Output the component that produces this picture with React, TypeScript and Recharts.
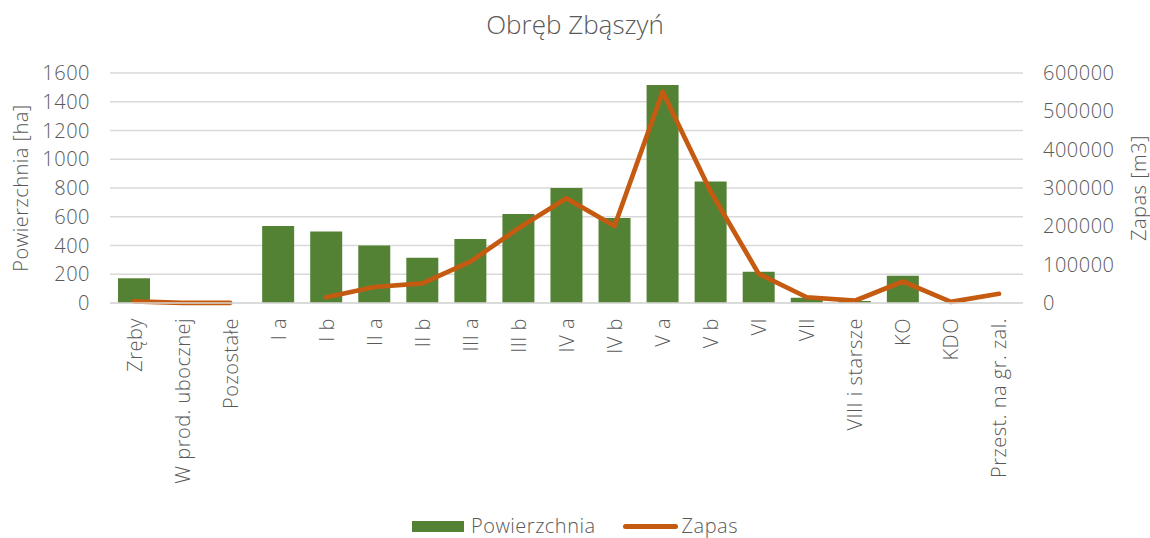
import React from 'react';
import { ComposedChart, Bar, Line, XAxis, YAxis, CartesianGrid, Legend } from 'recharts';

const categories = [
  'Zręby', 'W prod. ubocznej', 'Pozostałe', 'I a', 'I b', 'II a', 'II b', 'III a', 'III b',
  'IV a', 'IV b', 'V a', 'V b', 'VI', 'VII', 'VIII i starsze', 'KO', 'KDO', 'Przest. na gr. zal.',
];
const powierzchnia = [172, 0, 0, 536, 497, 400, 315, 446, 619, 800, 592, 1516, 845, 218, 37, 14, 190, 2, 0];
const zapas = [
  4000, 500, 500, null, 15000, 41700, 51400, 107800, 195000, 273000, 201000, 551000, 291000, 76000,
  15000, 6000, 56000, 3000, 24000,
];
const leftTicks = [0, 200, 400, 600, 800, 1000, 1200, 1400, 1600];
const rightTicks = [0, 100000, 200000, 300000, 400000, 500000, 600000];

const data = categories.map((name, i) => ({ name, Powierzchnia: powierzchnia[i], Zapas: zapas[i] }));

const FONT = '"Open Sans", Lato, sans-serif';
const TEXT = '#595959';
const GREEN = '#548235';
const ORANGE = '#c55a11';
const SIZE = 20;
const SPACING = 0.5;

const CategoryTick = (props: any) => {
  const { x, y, payload } = props;
  return (
    <text
      x={x}
      y={y}
      transform={`rotate(-90, ${x}, ${y})`}
      textAnchor="end"
      dominantBaseline="central"
      fill={TEXT}
      fontSize={SIZE}
      fontFamily={FONT}
      fontWeight={300}
      letterSpacing={SPACING}
    >
      {payload.value}
    </text>
  );
};

const AxisTitle = ({ viewBox, value, offsetX }: any) => {
  const cx = viewBox.x + offsetX;
  const cy = viewBox.y + viewBox.height / 2;
  return (
    <text
      x={cx}
      y={cy}
      transform={`rotate(-90, ${cx}, ${cy})`}
      textAnchor="middle"
      dominantBaseline="central"
      fill={TEXT}
      fontSize={SIZE}
      fontFamily={FONT}
      fontWeight={300}
      letterSpacing={SPACING}
    >
      {value}
    </text>
  );
};

const LegendContent = () => (
  <div
    style={{
      display: 'flex',
      justifyContent: 'center',
      alignItems: 'center',
      height: 26,
      lineHeight: '26px',
      fontFamily: FONT,
      fontWeight: 300,
      fontSize: SIZE,
      letterSpacing: SPACING,
      color: TEXT,
    }}
  >
    <span style={{ display: 'inline-block', width: 52, height: 11, background: GREEN, marginRight: 7 }} />
    <span>Powierzchnia</span>
    <span
      style={{
        display: 'inline-block',
        width: 55,
        height: 5,
        borderRadius: 3,
        background: ORANGE,
        marginLeft: 27,
        marginRight: 4,
      }}
    />
    <span>Zapas</span>
  </div>
);

const tickStyle = { fill: TEXT, fontSize: SIZE, fontFamily: FONT, fontWeight: 300, letterSpacing: SPACING };

export default function App() {
  return (
    <div style={{ position: 'absolute', left: 0, top: 0, width: 1150, height: 538, background: '#fff' }}>
      <div
        style={{
          position: 'absolute',
          top: 6,
          left: 0,
          width: 1150,
          textAlign: 'center',
          fontFamily: FONT,
          fontWeight: 300,
          fontSize: 26,
          color: TEXT,
        }}
      >
        Obręb Zbąszyń
      </div>
      <ComposedChart
        width={1150}
        height={538}
        data={data}
        margin={{ top: 73, right: 0, bottom: 0, left: 0 }}
        barSize={32}
      >
        <CartesianGrid yAxisId="left" vertical={false} stroke="#d9d9d9" strokeWidth={1.3} />
        <XAxis
          dataKey="name"
          interval={0}
          height={209}
          tickSize={0}
          tickMargin={15}
          tick={<CategoryTick />}
          axisLine={{ stroke: '#d9d9d9', strokeWidth: 1.3 }}
          tickLine={false}
        />
        <YAxis
          yAxisId="left"
          orientation="left"
          width={110}
          domain={[0, 1600]}
          ticks={leftTicks}
          tickSize={0}
          tickMargin={20}
          axisLine={false}
          tickLine={false}
          tick={tickStyle}
          label={<AxisTitle value="Powierzchnia [ha]" offsetX={20} />}
        />
        <YAxis
          yAxisId="right"
          orientation="right"
          width={127}
          domain={[0, 600000]}
          ticks={rightTicks}
          tickSize={0}
          tickMargin={20}
          axisLine={false}
          tickLine={false}
          tick={tickStyle}
          label={<AxisTitle value="Zapas [m3]" offsetX={115} />}
        />
        <Legend verticalAlign="bottom" align="center" content={<LegendContent />} wrapperStyle={{ height: 26, bottom: -1 }} />
        <Bar yAxisId="left" dataKey="Powierzchnia" fill={GREEN} isAnimationActive={false} />
        <Line
          yAxisId="right"
          dataKey="Zapas"
          stroke={ORANGE}
          strokeWidth={4.7}
          strokeLinecap="round"
          strokeLinejoin="round"
          dot={false}
          activeDot={false}
          type="linear"
          isAnimationActive={false}
        />
      </ComposedChart>
    </div>
  );
}
